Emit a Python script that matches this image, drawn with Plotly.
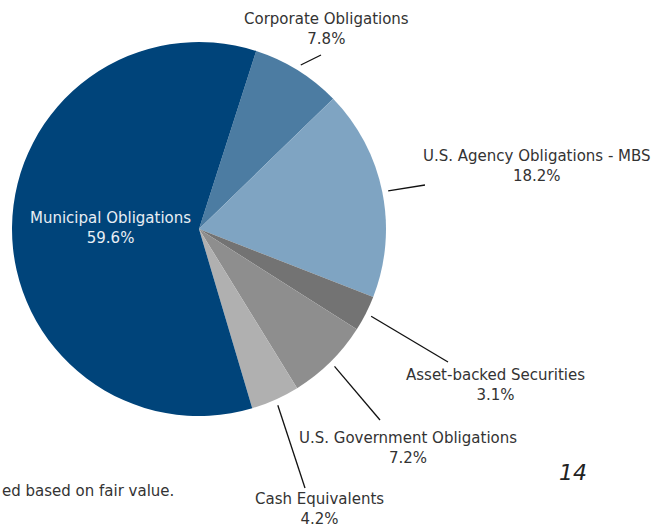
import math
import plotly.graph_objects as go

categories = ["Corporate Obligations", "U.S. Agency Obligations - MBS", "Asset-backed Securities",
              "U.S. Government Obligations", "Cash Equivalents", "Municipal Obligations"]
values = [7.8, 18.2, 3.1, 7.2, 4.2, 59.6]
colors = ["#4C7CA2", "#7FA4C2", "#737373", "#8E8E8E", "#B0B0B0", "#00447A"]

W, H = 655, 527
CX, CY, R = 199, 229, 187
ROT = 17.8

# label placement (pixels) and leader-line end points
label_pos = {
    "Corporate Obligations": (326, 29),
    "U.S. Agency Obligations - MBS": (537, 166),
    "Asset-backed Securities": (495, 385),
    "U.S. Government Obligations": (408, 448),
    "Cash Equivalents": (319, 509),
    "Municipal Obligations": (110, 228),
}
line_end = {
    "Corporate Obligations": (321, 55),
    "U.S. Agency Obligations - MBS": (425, 185),
    "Asset-backed Securities": (448, 362),
    "U.S. Government Obligations": (380, 420),
    "Cash Equivalents": (305, 488),
}

def px(x):
    return x / W

def py(y):
    return 1 - y / H

fig = go.Figure(go.Pie(
    labels=categories, values=values, sort=False, direction="clockwise",
    rotation=ROT, marker=dict(colors=colors, line=dict(width=0)),
    textinfo="none", hoverinfo="label+percent", showlegend=False,
    domain=dict(x=[px(CX - R), px(CX + R)], y=[py(CY + R), py(CY - R)]),
))

font = "DejaVu Sans"
FS = 15
annotations = []
shapes = []
total = sum(values)
cum = 0.0
for cat, v in zip(categories, values):
    mid = ROT + (cum + v / 2) / total * 360
    cum += v
    lx, ly = label_pos[cat]
    inside = cat == "Municipal Obligations"
    annotations.append(dict(
        x=px(lx), y=py(ly), xref="paper", yref="paper", showarrow=False,
        text=f"{cat}<br>{v:.1f}%", align="center",
        font=dict(family=font, size=FS, color="#E8EEF4" if inside else "#333333"),
        xanchor="center", yanchor="middle",
    ))
    if cat in line_end:
        a = math.radians(mid)
        sx = CX + 193 * math.sin(a)
        sy = CY - 193 * math.cos(a)
        ex, ey = line_end[cat]
        shapes.append(dict(type="line", xref="paper", yref="paper",
                           x0=px(sx), y0=py(sy), x1=px(ex), y1=py(ey),
                           line=dict(color="#111111", width=1.3)))

annotations.append(dict(x=px(0), y=py(491), xref="paper", yref="paper", showarrow=False,
                        text="ed based on fair value.", xanchor="left", yanchor="middle",
                        font=dict(family=font, size=FS, color="#333333")))
annotations.append(dict(x=px(573), y=py(472), xref="paper", yref="paper", showarrow=False,
                        text="<i>14</i>", xanchor="center", yanchor="middle",
                        font=dict(family=font, size=22, color="#222222")))

fig.update_layout(
    width=W, height=H, margin=dict(l=0, r=0, t=0, b=0),
    paper_bgcolor="white", plot_bgcolor="white",
    annotations=annotations, shapes=shapes,
)
fig.write_html("out.html", config={"displayModeBar": False},
               post_script="document.body.style.margin='0';document.body.style.overflow='hidden';")
